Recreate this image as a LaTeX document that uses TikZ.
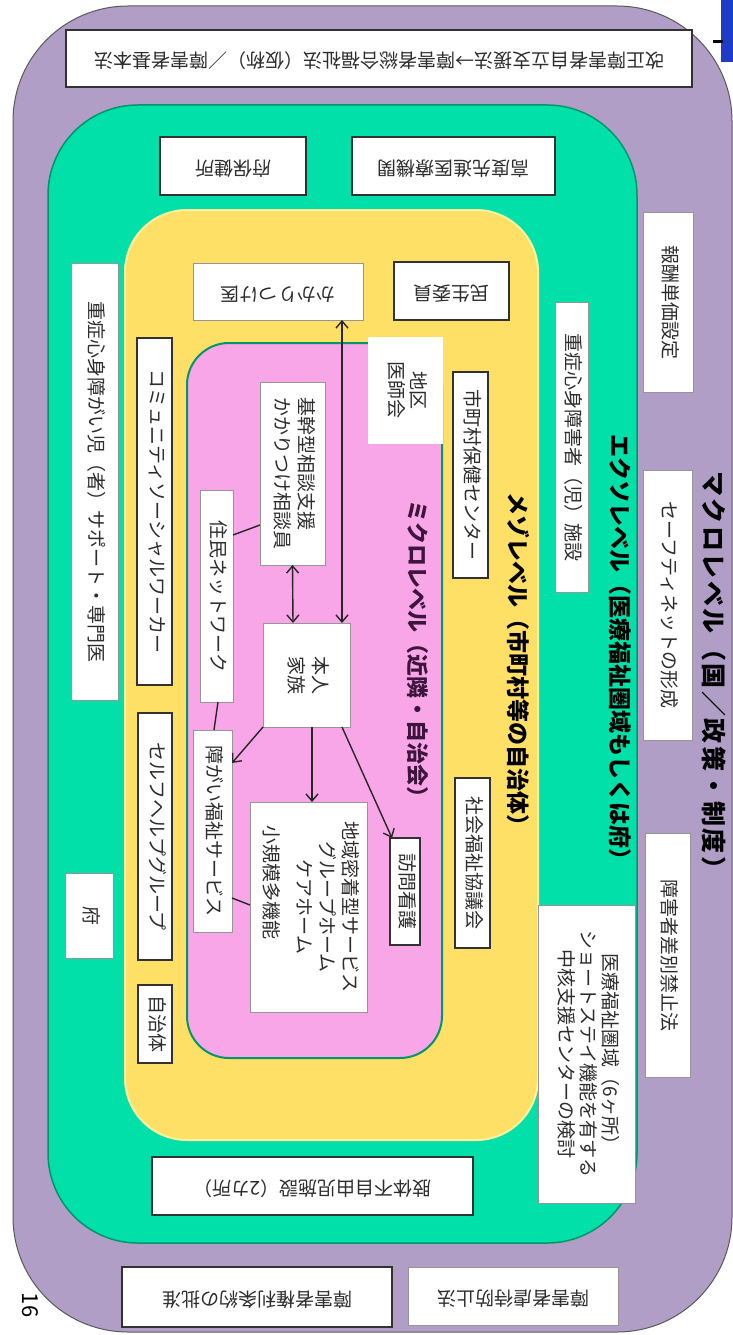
\documentclass[tikz,border=0pt]{standalone}
\usepackage{fontspec}
\usepackage{graphicx}
\newfontfamily\jp{Noto Sans CJK JP}
\usetikzlibrary{arrows.meta,calc}
\definecolor{purp}{RGB}{176,158,198}
\definecolor{grn}{RGB}{0,224,168}
\definecolor{grnline}{RGB}{0,150,105}
\definecolor{yel}{RGB}{255,224,102}
\definecolor{yelline}{RGB}{255,242,160}
\definecolor{pnk}{RGB}{248,166,232}
\definecolor{boxgray}{RGB}{150,150,150}
\definecolor{boxdark}{RGB}{50,50,50}
\definecolor{txtgray}{RGB}{45,45,45}
\definecolor{micropurple}{RGB}{60,20,60}
\definecolor{slideblue}{RGB}{30,60,200}
\newcommand\vtext[1]{\rotatebox{-90}{\begin{tabular}{@{}c@{}}#1\end{tabular}}}
\newcommand\vtextl[1]{\rotatebox{-90}{\begin{tabular}{@{}l@{}}#1\end{tabular}}}
\newcommand\utext[1]{\rotatebox{180}{\begin{tabular}{@{}c@{}}#1\end{tabular}}}
\newcommand\tbox[7]{\node[#6, minimum width={(#4-#2)*1pt}, minimum height={(#5-#3)*1pt}] (#1) at ({(#2+#4)/2},{(#3+#5)/2}) {#7};}
\tikzset{
  box/.style={draw=boxgray, fill=white, line width=1pt, inner sep=0pt, outer sep=0pt, text=txtgray, font=\jp\fontsize{19}{22}\selectfont},
  dbox/.style={box, draw=boxdark, line width=1.6pt},
  nbox/.style={box, draw=white},
  leveltitle/.style={inner sep=0pt, font=\jp\bfseries},
  conn/.style={line width=1.4pt, draw=black!85},
  arr/.style={conn, -{Straight Barb[length=7pt,width=12pt,line width=1.4pt]}},
  darr/.style={conn, {Straight Barb[length=7pt,width=12pt,line width=1.4pt]}-{Straight Barb[length=7pt,width=12pt,line width=1.4pt]}}
}
\begin{document}
\begin{tikzpicture}[x=1pt,y=-1pt]
\useasboundingbox (0,0) rectangle (733,1335);
\fill[white] (0,0) rectangle (733,1335);
% level areas
\draw[fill=purp, draw=black!65, line width=1pt, rounded corners=115pt] (13,6) rectangle (732,1332);
\fill[slideblue] (721,0) rectangle (733,62);
\draw[line width=3pt] (713,42) -- (723,42);
\draw[fill=grn, draw=grnline, line width=1.5pt, rounded corners=90pt] (48,105) rectangle (637,1243);
\draw[fill=yel, draw=yelline, line width=2pt, rounded corners=62pt] (125,210) rectangle (538,1140);
\draw[fill=pnk, draw=grnline, line width=2pt, rounded corners=42pt] (187,343) rectangle (442,1058);
% titles
\node[leveltitle, font=\jp\bfseries\fontsize{25}{28}\selectfont\addfontfeature{LetterSpace=10}] (macro) at (714,676) {\rotatebox{-90}{マクロレベル（国／政策・制度）}};
\node[leveltitle, font=\jp\bfseries\fontsize{23}{26}\selectfont] (exo) at (620,653) {\rotatebox{-90}{エクソレベル（医療福祉圏域もしくは府）}};
\node[leveltitle, font=\jp\bfseries\fontsize{23}{26}\selectfont] (meso) at (518,665) {\rotatebox{-90}{メゾレベル（市町村等の自治体）}};
\node[leveltitle, text=micropurple, font=\jp\bfseries\fontsize{22}{25}\selectfont] (micro) at (418,654) {\rotatebox{-90}{ミクロレベル（近隣・自治会）}};
% macro level boxes
\tbox{kaisei}{66}{30}{692}{87}{dbox}{\utext{改正障害者自立支援法→障害者総合福祉法（仮称）／障害者基本法}}
\tbox{hoshu}{643}{212}{693}{392}{box}{\vtext{報酬単価設定}}
\tbox{safety}{643}{470}{692}{740}{box}{\vtext{セーフティネットの形成}}
\tbox{sabetsu}{645}{833}{690}{1077}{box}{\vtext{障害者差別禁止法}}
\tbox{gyakutai}{408}{1267}{618}{1325}{box}{\utext{障害者虐待防止法}}
\tbox{kenri}{122}{1267}{392}{1327}{dbox}{\utext{障害者権利条約の批准}}
% exo level boxes
\tbox{kodo}{352}{137}{555}{195}{dbox}{\utext{高度先進医療機関}}
\tbox{hokenjo}{160}{137}{306}{195}{dbox}{\utext{府保健所}}
\tbox{jushin}{555}{302}{588}{592}{box}{\vtext{重症心身障害者（児）施設}}
\tbox{iryo}{538}{905}{635}{1203}{box, font=\jp\fontsize{19}{21}\selectfont}{\vtext{医療福祉圏域（6ヶ所）\\ショートステイ機能を有する\\中核支援センターの検討}}
\tbox{support}{71}{263}{118}{700}{box}{\vtext{重症心身障がい児（者）サポート・専門医}}
\tbox{fu}{65}{873}{113}{958}{box}{\vtext{府}}
\tbox{shitai}{152}{1157}{473}{1215}{dbox}{\utext{肢体不自由児施設（2カ所）}}
% meso level boxes
\tbox{kakari}{193}{263}{363}{320}{box}{\utext{かかりつけ医}}
\tbox{minsei}{394}{262}{509}{320}{dbox}{\utext{民生委員}}
\tbox{ishikai}{368}{337}{442}{443}{nbox}{\vtext{地区\\医師会}}
\tbox{hoken}{453}{372}{488}{578}{dbox}{\vtext{市町村保健センター}}
\tbox{shakyo}{455}{778}{490}{948}{dbox}{\vtext{社会福祉協議会}}
\tbox{csw}{137}{338}{172}{685}{dbox}{\vtext{コミュニティソーシャルワーカー}}
\tbox{selfhelp}{138}{713}{172}{960}{dbox}{\vtext{セルフヘルプグループ}}
\tbox{jichi}{138}{985}{172}{1063}{dbox}{\vtext{自治体}}
% micro level boxes
\tbox{kikan}{260}{382}{325}{565}{box, font=\jp\fontsize{19}{24}\selectfont}{\vtextl{基幹型相談支援\\かかりつけ相談員}}
\tbox{jumin}{200}{490}{233}{702}{box}{\vtext{住民ネットワーク}}
\tbox{honnin}{263}{623}{350}{727}{box, font=\jp\fontsize{19}{24}\selectfont}{\vtext{本人\\家族}}
\tbox{shogai}{193}{730}{232}{932}{box}{\vtext{障がい福祉サービス}}
\tbox{chiiki}{250}{802}{367}{1012}{box, font=\jp\fontsize{19}{23}\selectfont}{\vtext{地域密着型サービス\\グループホーム\\ケアホーム\\[10pt]小規模多機能\hspace*{2.6em}}}
\tbox{houmon}{390}{838}{420}{945}{dbox}{\vtext{訪問看護}}
% page number
\node[inner sep=0pt, font=\jp\fontsize{22}{24}\selectfont] (pnum) at (30,1305) {\rotatebox{-90}{16}};
% connectors
\draw[darr] ([xshift=64pt]kakari.south) -- ([xshift=35.5pt]honnin.north);
\draw[darr] (kikan.south) -- ([xshift=-13.5pt]honnin.north);
\draw[conn] ([yshift=61pt]jumin.east) -- ([yshift=-51.5pt]kikan.west);
\draw[conn] ([xshift=1.5pt]jumin.south) -- ([xshift=1.5pt]shogai.north);
\draw[arr] (honnin.south west) -- ([yshift=68pt]shogai.east);
\draw[arr] ([xshift=5.5pt]honnin.south) -- ([xshift=3.5pt]chiiki.north);
\draw[arr] ([xshift=35.5pt]honnin.south) -- ([xshift=-13pt]houmon.north);
\draw[conn] ([yshift=-67pt]shogai.east) -- ([yshift=2pt]chiiki.west);
\end{tikzpicture}
\end{document}
